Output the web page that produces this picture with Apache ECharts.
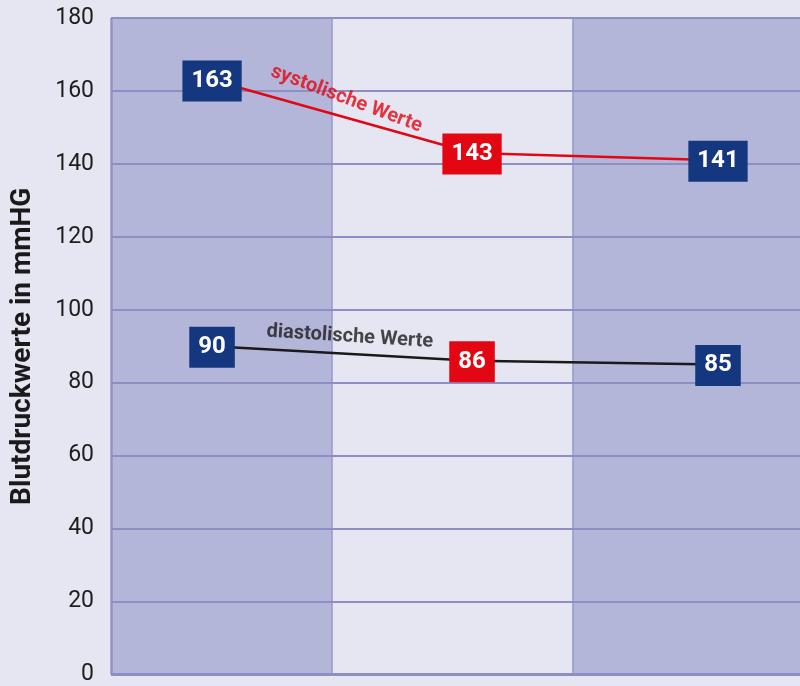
<!DOCTYPE html>
<html>
<head>
<meta charset="utf-8">
<script src="https://cdn.jsdelivr.net/npm/echarts@6/dist/echarts.min.js"></script>
<style>
  html, body { margin: 0; padding: 0; background: #e6e6f2; }
  #chart { width: 800px; height: 686px; }
</style>
</head>
<body>
<div id="chart"></div>
<script>
// Measurement positions along the horizontal axis (three visits)
const visitX = [0.44, 1.572, 2.643];
// Column boundaries of the alternating background bands
const bandEdges = [0, 0.962, 2.011, 3];
const bandShaded = [true, false, true];

const systolic = [163, 143, 141];
const diastolic = [90, 86, 85];
const highlight = [false, true, false];

const yTicks = [0, 20, 40, 60, 80, 100, 120, 140, 160, 180];

// Series captions and the point where each caption sits
const systolicCaption = { text: 'systolische Werte', x: 1.025, y: 157.8, rotate: -20.5 };
const diastolicCaption = { text: 'diastolische Werte', x: 1.04, y: 92.6, rotate: -3.6 };

const NAVY = '#15377f';
const RED = '#e30613';
const FONT = "Roboto, 'Liberation Sans', sans-serif";

function valuePoints(values) {
  return values.map((v, i) => ({
    value: [visitX[i], v],
    label: { backgroundColor: highlight[i] ? RED : NAVY }
  }));
}

const bands = [];
for (let i = 0; i < bandShaded.length; i++) {
  if (bandShaded[i]) bands.push([{ xAxis: bandEdges[i] }, { xAxis: bandEdges[i + 1] }]);
}
const bandLines = bandEdges.slice(1, -1).map(x => ({ xAxis: x }));
const gridLines = yTicks.slice(1).map(y => ({ yAxis: y }));

const boxLabel = {
  show: true,
  position: 'inside',
  offset: [0, 1],
  color: '#ffffff',
  fontFamily: FONT,
  fontWeight: 'bold',
  fontSize: 24,
  lineHeight: 25,
  padding: [8, 9, 8, 9],
  formatter: p => String(p.value[1])
};

const chart = echarts.init(document.getElementById('chart'), null, { renderer: 'canvas' });
chart.setOption({
  backgroundColor: '#e6e6f2',
  animation: false,
  grid: { left: 111, right: 0, top: 18, bottom: 8, show: false },
  xAxis: {
    type: 'value', min: bandEdges[0], max: bandEdges[bandEdges.length - 1],
    axisLine: { show: false }, axisTick: { show: false }, axisLabel: { show: false },
    splitLine: { show: false }
  },
  yAxis: {
    type: 'value', min: yTicks[0], max: yTicks[yTicks.length - 1],
    interval: yTicks[1] - yTicks[0],
    name: 'Blutdruckwerte in mmHG',
    nameLocation: 'middle', nameRotate: 90, nameGap: 74,
    nameTextStyle: { fontFamily: FONT, fontWeight: 'bold', fontSize: 28, color: '#1a1a1a' },
    axisLine: { show: false },
    axisTick: { show: false },
    axisLabel: { fontFamily: FONT, fontSize: 23, color: '#1e1e1e', margin: 17 },
    splitLine: { show: false }
  },
  series: [
    {
      type: 'line', name: 'bands', data: [], silent: true,
      markArea: { silent: true, itemStyle: { color: '#b4b6d9' }, data: bands },
      z: 1
    },
    {
      type: 'line', name: 'rules', data: [], silent: true,
      markLine: {
        silent: true, symbol: 'none', label: { show: false },
        lineStyle: { color: '#9799cd', width: 1.5, type: 'solid' },
        data: bandLines.concat([{ xAxis: bandEdges[0], lineStyle: { width: 2.5, color: '#9193c8' } }])
      },
      z: 2
    },
    {
      type: 'line', name: 'grid', data: [], silent: true,
      markLine: {
        silent: true, symbol: 'none', label: { show: false },
        lineStyle: { color: '#8c8ec4', width: 2, type: 'solid' },
        data: gridLines.concat([{ yAxis: yTicks[0], lineStyle: { width: 3 } }])
      },
      z: 3
    },
    {
      type: 'line', name: 'systolisch', data: valuePoints(systolic),
      symbol: 'rect', symbolSize: 1, itemStyle: { color: RED },
      lineStyle: { color: RED, width: 2.5 },
      label: boxLabel, z: 5
    },
    {
      type: 'line', name: 'diastolisch', data: valuePoints(diastolic),
      symbol: 'rect', symbolSize: 1, itemStyle: { color: '#1a1a1a' },
      lineStyle: { color: '#1a1a1a', width: 2.5 },
      label: boxLabel, z: 5
    },
    {
      type: 'scatter', name: 'captions', symbolSize: 0, silent: true, z: 6,
      data: [
        { value: [systolicCaption.x, systolicCaption.y],
          label: { formatter: systolicCaption.text, rotate: systolicCaption.rotate, color: RED } },
        { value: [diastolicCaption.x, diastolicCaption.y],
          label: { formatter: diastolicCaption.text, rotate: diastolicCaption.rotate, color: '#1c1c1c' } }
      ],
      label: { show: true, position: 'inside', fontFamily: FONT, fontWeight: 'bold', fontSize: 20 }
    }
  ]
});
</script>
</body>
</html>
